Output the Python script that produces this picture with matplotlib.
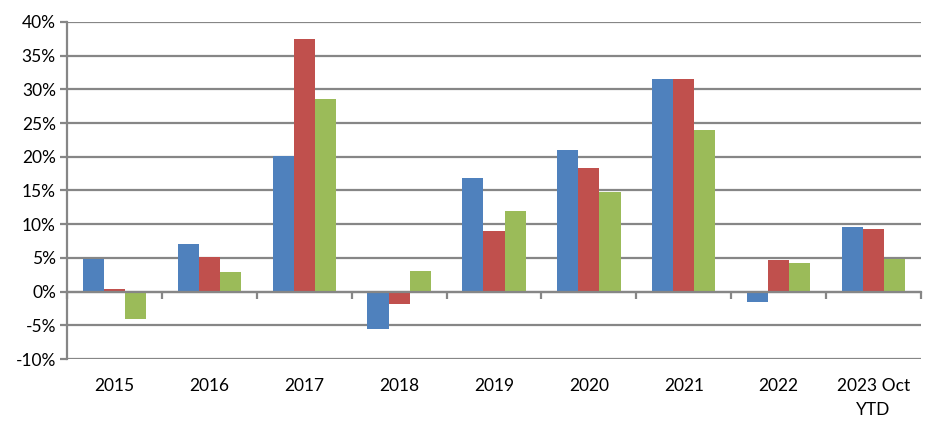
import matplotlib
matplotlib.use("Agg")
import matplotlib.pyplot as plt
import numpy as np
from matplotlib.ticker import FuncFormatter

categories = ["2015", "2016", "2017", "2018", "2019", "2020", "2021", "2022", "2023 Oct\nYTD"]
series_blue = [4.9, 7.1, 20.1, -5.5, 16.9, 21.0, 31.6, -1.5, 9.6]
series_red = [0.4, 5.2, 37.5, -1.8, 9.0, 18.3, 31.6, 4.7, 9.3]
series_green = [-4.0, 2.9, 28.6, 3.1, 12.0, 14.8, 24.0, 4.3, 4.8]
yticks = [-10, -5, 0, 5, 10, 15, 20, 25, 30, 35, 40]

colors = ["#4F81BD", "#C0504D", "#9BBB59"]
grid_c = "#868686"

plt.rcParams['font.family'] = ['Lato', 'DejaVu Sans']

fig = plt.figure(figsize=(9.3, 4.28), dpi=100)
ax = fig.add_axes([67/930, 1 - 359/428, (921-67)/930, (359-22)/428])

x = np.arange(len(categories))
w = 1 / (3 + 1.5)
for i, (vals, c) in enumerate(zip([series_blue, series_red, series_green], colors)):
    ax.bar(x + (i - 1) * w, vals, width=w, color=c, zorder=3, linewidth=0)

ax.set_xlim(-0.5, len(categories) - 0.5)
ax.set_ylim(-10, 40)
ax.set_yticks(yticks)
ax.yaxis.set_major_formatter(FuncFormatter(lambda v, p: f"{int(v)}%"))
ax.grid(axis='y', color=grid_c, linewidth=1.6, zorder=1)
ax.set_axisbelow(True)

for s in ['top', 'right']:
    ax.spines[s].set_visible(False)
ax.spines['left'].set_color(grid_c)
ax.spines['left'].set_linewidth(1.6)
ax.spines['bottom'].set_position(('data', 0))
ax.spines['bottom'].set_color(grid_c)
ax.spines['bottom'].set_linewidth(1.6)
ax.spines['bottom'].set_zorder(4)

ax.tick_params(axis='y', length=5, width=1.6, color=grid_c, labelsize=12.5, pad=3, labelcolor='black')
ax.set_xticks(np.arange(-0.5, len(categories), 1.0))
ax.tick_params(axis='x', length=5, width=1.6, color=grid_c, direction='out', labelbottom=False)

sec = ax.secondary_xaxis(0)
sec.set_xticks(x)
sec.set_xticklabels(categories)
sec.tick_params(length=0, labelsize=12.5, pad=14, labelcolor='black')
sec.spines['bottom'].set_visible(False)
for lbl in sec.get_xticklabels():
    lbl.set_linespacing(1.6)

fig.savefig("out.png", dpi=100)
